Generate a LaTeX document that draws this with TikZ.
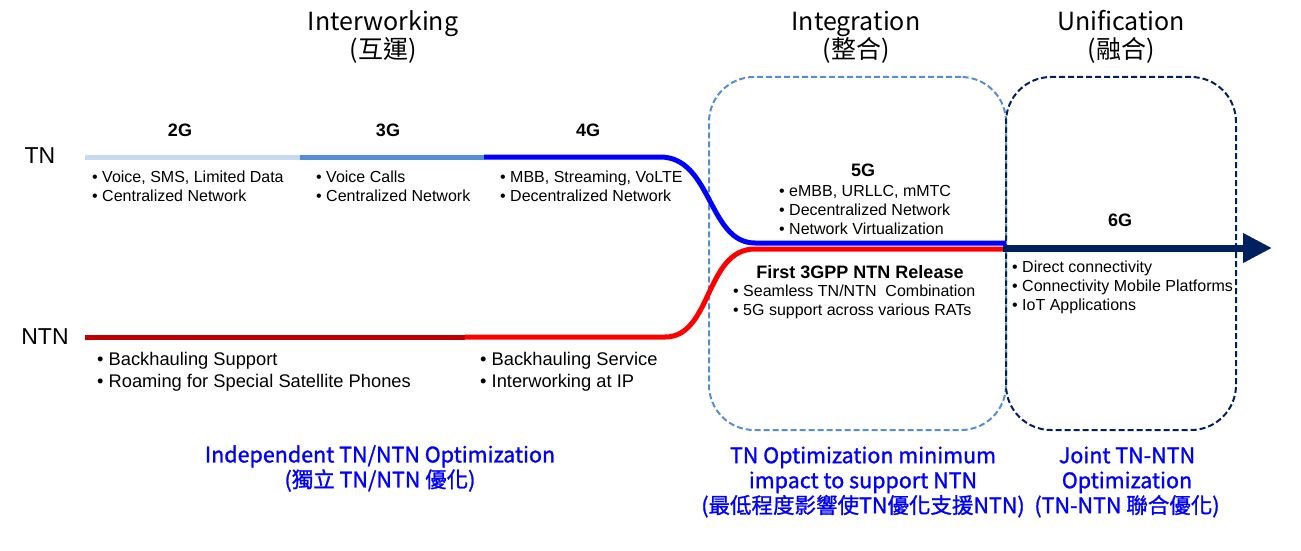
\documentclass[tikz,border=0pt]{standalone}
\usepackage{fontspec}
\setmainfont{Liberation Sans}
\newfontfamily\cjk{Noto Sans CJK TC}
\newfontfamily\cjkb{Noto Sans CJK TC}[FakeBold=1.2]
\usetikzlibrary{arrows.meta}
\definecolor{tnA}{HTML}{C6D9F1}
\definecolor{tnB}{HTML}{558ED5}
\definecolor{tnC}{HTML}{0000FF}
\definecolor{ntnA}{HTML}{C00000}
\definecolor{ntnB}{HTML}{FF0000}
\definecolor{navy}{HTML}{002060}
\definecolor{optblue}{HTML}{0000FF}
\definecolor{boxblue}{HTML}{558ED5}
\begin{document}
\begin{tikzpicture}[x=1pt,y=-1pt,
  bul/.style={inner sep=0pt, align=left, anchor=west, font=\fontsize{16}{19}\selectfont},
  bulbig/.style={inner sep=0pt, align=left, anchor=west, font=\fontsize{18.3}{22}\selectfont},
  gen/.style={inner sep=0pt, font=\fontsize{18}{21}\selectfont\bfseries},
  phase/.style={inner sep=0pt, align=center, font=\cjk\fontsize{25}{28}\selectfont},
  opt/.style={inner sep=0pt, align=center, text=optblue, font=\cjkb\fontsize{21.5}{25}\selectfont},
  side/.style={inner sep=0pt, font=\fontsize{23}{26}\selectfont},
  seg/.style={line width=5pt},
  zone/.style={draw, dash pattern=on 6pt off 3pt, line width=2pt, rounded corners=45pt, inner sep=0pt}]
\useasboundingbox (0,0) rectangle (1301,551);

% zones
\node[zone, draw=boxblue, minimum width=297pt, minimum height=353pt] (integ) at (857.5,253.5) {};
\node[zone, draw=navy, minimum width=230pt, minimum height=353pt] (unif) at (1121,253.5) {};

% phase headings
\node[phase] (hInter) at (383,37) {Interworking\\(互運)};
\node[phase] (hInteg) at (856,37) {Integration\\(整合)};
\node[phase] (hUnif) at (1121,37) {Unification\\(融合)};

% coordinates of lines
\coordinate (t0) at (85,157);
\coordinate (t1) at (300,157);
\coordinate (t2) at (484,157);
\coordinate (t3) at (660,157);
\coordinate (t4) at (755,243);
\coordinate (t5) at (1006,243);
\coordinate (n0) at (85,337);
\coordinate (n1) at (465,337);
\coordinate (n2) at (665,337);
\coordinate (n3) at (755,249);
\coordinate (n4) at (1006,249);
\coordinate (a0) at (1003,248);
\coordinate (a1) at (1272,248);

% TN line
\draw[seg, tnA] (t0) -- (t1);
\draw[seg, tnB] (t1) -- (t2);
\draw[seg, tnC] (t2) -- (t3) .. controls (712,157) and (708,243) .. (t4) -- (t5);
% NTN line
\draw[seg, ntnA] (n0) -- (n1);
\draw[seg, ntnB] (n1) -- (n2) .. controls (712,337) and (705,249) .. (n3) -- (n4);
% 6G arrow
\draw[navy, line width=7pt, -{Triangle[length=29pt, width=28pt]}] (a0) -- (a1);

% side labels
\node[side] (tn) at (40,156) {TN};
\node[side] (ntn) at (45,337) {NTN};

% generation labels
\node[gen] (g2) at (180,130) {2G};
\node[gen] (g3) at (388,130) {3G};
\node[gen] (g4) at (588,130) {4G};
\node[gen] (g5) at (863,170) {5G};
\node[gen] (g6) at (1120,220) {6G};
\node[gen] (rel) at (860,272) {First 3GPP NTN Release};

% bullets
\node[bul] (b2) at (92,186.5) {• Voice, SMS, Limited Data\\• Centralized Network};
\node[bul] (b3) at (316,186.5) {• Voice Calls\\• Centralized Network};
\node[bul] (b4) at (500,186.5) {• MBB, Streaming, VoLTE\\• Decentralized Network};
\node[bul] (b5) at (779,210) {• eMBB, URLLC, mMTC\\• Decentralized Network\\• Network Virtualization};
\node[bul] (b5n) at (733,301.5) {• Seamless TN/NTN\ \ Combination\\• 5G support across various RATs};
\node[bul] (b6) at (1012,287) {• Direct connectivity\\• Connectivity Mobile Platforms\\• IoT Applications};
\node[bulbig] (bn1) at (97,372) {• Backhauling Support\\• Roaming for Special Satellite Phones};
\node[bulbig] (bn2) at (480,372) {• Backhauling Service\\• Interworking at IP};

% optimization captions
\node[opt] (o1) at (380,468.5) {Independent TN/NTN Optimization\\(獨立 TN/NTN 優化)};
\node[opt] (o2) at (863,482) {TN Optimization minimum\\impact to support NTN\\(最低程度影響使TN優化支援NTN)};
\node[opt] (o3) at (1127,482) {Joint TN-NTN\\Optimization\\(TN-NTN 聯合優化)};
\end{tikzpicture}
\end{document}
